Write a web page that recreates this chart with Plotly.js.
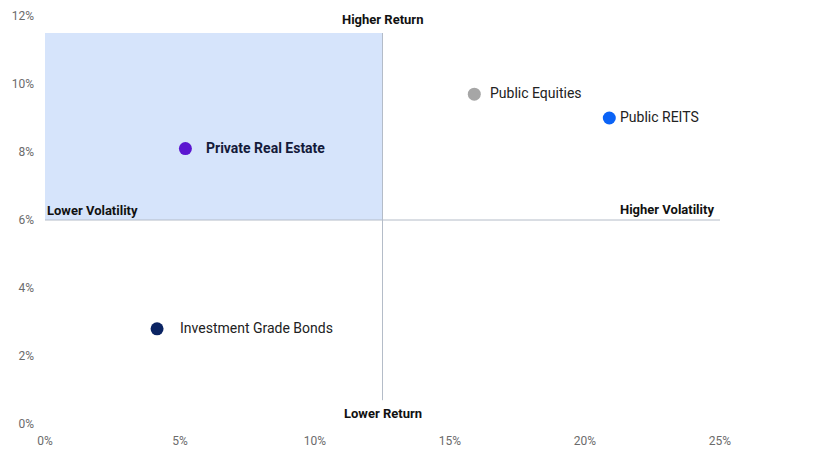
<!DOCTYPE html>
<html><head><meta charset="utf-8">
<script src="https://cdn.plot.ly/plotly-3.0.1.min.js"></script>
<style>body{margin:0;background:#fff}#c{width:828px;height:458px}</style>
</head><body><div id="c"></div>
<script>
const assets = ["Private Real Estate", "Public Equities", "Public REITS", "Investment Grade Bonds"];
const volatility = [5.2, 15.9, 20.9, 4.15];
const returns = [8.1, 9.7, 9.0, 2.8];
const colors = ["#5b16d0", "#a6a6a6", "#0b63f6", "#0b2463"];
const xTicks = [0, 5, 10, 15, 20, 25];
const xTickText = ["0%", "5%", "10%", "15%", "20%", "25%"];
const yTicks = [0, 2, 4, 6, 8, 10, 12];
const yTickText = ["0%", "2%", "4%", "6%", "8%", "10%", "12%"];

const labelShift = [19, 14, 9, 21];
const labelBold = [true, false, false, false];

const traces = [{
  type: 'scatter', mode: 'markers',
  x: volatility, y: returns,
  marker: {size: 13, color: colors},
  hoverinfo: 'skip', showlegend: false
}];

const annotations = assets.map((a, i) => ({
  x: volatility[i], y: returns[i], xref: 'x', yref: 'y',
  text: labelBold[i] ? '<b>' + a + '</b>' : a,
  showarrow: false, xanchor: 'left', yanchor: 'middle', xshift: labelShift[i], yshift: 1,
  font: {family: 'Roboto, sans-serif', size: 14, color: labelBold[i] ? '#141a3a' : '#222'}
}));
const corner = (text, x, y, xa, ya, ys) => ({
  x: x, y: y, xref: 'x', yref: 'y', text: '<b>' + text + '</b>', showarrow: false,
  xanchor: xa, yanchor: ya, yshift: ys, font: {family: 'Roboto, sans-serif', size: 13, color: '#111'}
});
annotations.push(corner('Higher Return', 12.5, 11.5, 'center', 'bottom', 4));
annotations.push(corner('Lower Return', 12.5, 0.7, 'center', 'top', -4));
annotations.push(corner('Lower Volatility', 0, 6, 'left', 'bottom', 0));
annotations.push(corner('Higher Volatility', 24.85, 6, 'right', 'bottom', 1));

const layout = {
  width: 828, height: 458,
  margin: {l: 45, r: 108, t: 16, b: 34},
  paper_bgcolor: '#fff', plot_bgcolor: '#fff',
  font: {family: 'Roboto, sans-serif', size: 12, color: '#666'},
  xaxis: {range: [0, 25], tickmode: 'array', tickvals: xTicks, ticktext: xTickText, showgrid: false, zeroline: false,
          showline: false, ticks: '', fixedrange: true, ticklabelstandoff: 8,
          tickfont: {family: 'Roboto, sans-serif', color: '#6b6b6b', size: 12}},
  yaxis: {range: [0, 12], tickmode: 'array', tickvals: yTicks, ticktext: yTickText, showgrid: false, zeroline: false,
          showline: false, ticks: '', fixedrange: true, ticklabelstandoff: 10,
          tickfont: {family: 'Roboto, sans-serif', color: '#6b6b6b', size: 12}},
  shapes: [
    {type: 'rect', xref: 'x', yref: 'y', x0: 0, x1: 12.5, y0: 6, y1: 11.5,
     fillcolor: '#d6e4fb', line: {width: 0}, layer: 'below'},
    {type: 'line', xref: 'x', yref: 'y', x0: 12.5, x1: 12.5, y0: 0.7, y1: 11.5,
     line: {color: '#b4bcc8', width: 1}, layer: 'below'},
    {type: 'line', xref: 'x', yref: 'y', x0: 0, x1: 25, y0: 6, y1: 6,
     line: {color: '#b4bcc8', width: 1}, layer: 'below'}
  ],
  annotations: annotations
};
Plotly.newPlot('c', traces, layout, {displayModeBar: false, staticPlot: true});
</script></body></html>
